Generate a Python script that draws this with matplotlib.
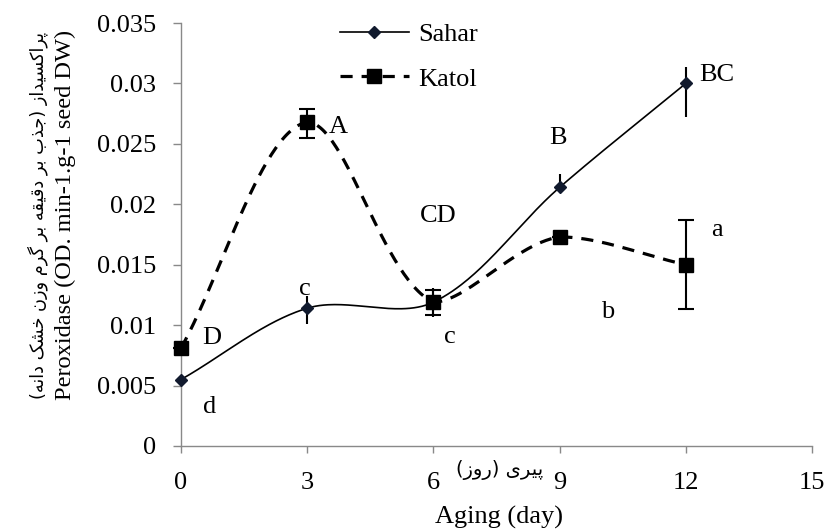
import numpy as np
import matplotlib
matplotlib.use("Agg")
import matplotlib.pyplot as plt

# ---- data ------------------------------------------------------------------
days = [0, 3, 6, 9, 12]
sahar = [0.0055, 0.0114, 0.0119, 0.0214, 0.0300]
sahar_err_lo = [0.0, 0.0013, 0.0012, 0.0, 0.0028]
sahar_err_hi = [0.0, 0.0010, 0.0012, 0.0011, 0.0014]
katol = [0.0081, 0.0268, 0.0119, 0.0173, 0.0150]
katol_err_lo = [0.0, 0.0013, 0.0011, 0.0, 0.0037]
katol_err_hi = [0.0, 0.0011, 0.0010, 0.0, 0.0037]
series_names = ["Sahar", "Katol"]

letters = ["D", "d", "c", "A", "CD", "c", "B", "b", "BC", "a"]
y_ticks = [0, 0.005, 0.01, 0.015, 0.02, 0.025, 0.03, 0.035]
x_ticks = [0, 3, 6, 9, 12, 15]

ylabel_en = "Peroxidase (OD. min-1.g-1 seed DW)"
ylabel_fa = "پراکسیداز (جذب بر دقیقه بر گرم وزن خشک دانه)"
xlabel_en = "Aging (day)"
xlabel_fa = "پیری (روز)"

# letter positions (x, y) in data units
letter_pos = [(0.74, 0.0089), (0.69, 0.0032), (2.95, 0.0130), (3.73, 0.0264),
              (6.11, 0.0190), (6.39, 0.0090), (8.96, 0.0255), (10.13, 0.0111),
              (12.74, 0.0307), (12.74, 0.0179)]


# ---- helpers -----------------------------------------------------------------
def excel_smooth(ax, x, y, n=60):
    """Bezier smoothing in screen space, arms weighted by chord length
    (close to Excel's 'smoothed line'); no overshoot past local extrema."""
    Q = ax.transData.transform(np.column_stack([x, y]).astype(float))
    m = len(Q)
    ext = [0 < k < m - 1 and (Q[k, 1] - Q[k - 1, 1]) * (Q[k + 1, 1] - Q[k, 1]) < 0
           for k in range(m)]
    P = np.vstack([Q[0], Q, Q[-1]])
    d = np.linalg.norm(np.diff(P, axis=0), axis=1)
    t = np.linspace(0, 1, n)[:, None]
    out = []
    for i in range(1, len(P) - 2):
        p0, p3 = P[i], P[i + 1]
        da, db, dc = d[i - 1], d[i], d[i + 1]
        w1 = db / (da + db) if da + db > 0 else 0.5
        w2 = db / (db + dc) if db + dc > 0 else 0.5
        p1 = p0 + (P[i + 1] - P[i - 1]) * w1 / 3.0
        p2 = p3 - (P[i + 2] - P[i]) * w2 / 3.0
        lo, hi = sorted([p0[1], p3[1]])
        if ext[i - 1]:
            p1[1] = np.clip(p1[1], lo, hi)
        if ext[i]:
            p2[1] = np.clip(p2[1], lo, hi)
        seg = ((1 - t) ** 3 * p0 + 3 * (1 - t) ** 2 * t * p1
               + 3 * (1 - t) * t ** 2 * p2 + t ** 3 * p3)
        out.append(seg if i == 1 else seg[1:])
    out = ax.transData.inverted().transform(np.vstack(out))
    return out[:, 0], out[:, 1]


# presentation forms: isolated, final, initial, medial
FORMS = {
    'ا': (0xFE8D, 0xFE8E, None, None), 'ب': (0xFE8F, 0xFE90, 0xFE91, 0xFE92),
    'پ': (0xFB56, 0xFB57, 0xFB58, 0xFB59), 'ج': (0xFE9D, 0xFE9E, 0xFE9F, 0xFEA0),
    'خ': (0xFEA5, 0xFEA6, 0xFEA7, 0xFEA8), 'د': (0xFEA9, 0xFEAA, None, None),
    'ذ': (0xFEAB, 0xFEAC, None, None), 'ر': (0xFEAD, 0xFEAE, None, None),
    'ز': (0xFEAF, 0xFEB0, None, None), 'س': (0xFEB1, 0xFEB2, 0xFEB3, 0xFEB4),
    'ش': (0xFEB5, 0xFEB6, 0xFEB7, 0xFEB8), 'ق': (0xFED5, 0xFED6, 0xFED7, 0xFED8),
    'ک': (0xFB8E, 0xFB8F, 0xFB90, 0xFB91), 'گ': (0xFB92, 0xFB93, 0xFB94, 0xFB95),
    'م': (0xFEE1, 0xFEE2, 0xFEE3, 0xFEE4), 'ن': (0xFEE5, 0xFEE6, 0xFEE7, 0xFEE8),
    'ه': (0xFEE9, 0xFEEA, 0xFEEB, 0xFEEC), 'و': (0xFEED, 0xFEEE, None, None),
    'ی': (0xFBFC, 0xFBFD, 0xFBFE, 0xFBFF),
}


def farsi(s):
    """Shape letters and put them in visual (left-to-right) order."""
    res = []
    for i, ch in enumerate(s):
        if ch not in FORMS:
            res.append(ch)
            continue
        prev = s[i - 1] if i > 0 else ''
        nxt = s[i + 1] if i + 1 < len(s) else ''
        jp = prev in FORMS and FORMS[prev][2] is not None
        jn = FORMS[ch][2] is not None and nxt in FORMS
        f = FORMS[ch]
        code = f[3] if (jp and jn) else f[1] if jp else f[2] if jn else f[0]
        res.append(chr(code))
    vis = ''.join(reversed(res))
    return vis.translate(str.maketrans('()', ')('))


# ---- plot --------------------------------------------------------------------
plt.rcParams['font.family'] = ['Liberation Serif', 'DejaVu Sans']
FS = 19
GRAY = '#898989'

fig = plt.figure(figsize=(8.28, 5.30), dpi=100)
ax = fig.add_axes([0.2186, 0.1585, 0.7621, 0.7981])
ax.set_xlim(0, 15)
ax.set_ylim(0, 0.035)

sx, sy = excel_smooth(ax, days, sahar)
kx, ky = excel_smooth(ax, days, katol)
ax.plot(sx, sy, color='black', lw=1.2, clip_on=False)
ax.plot(kx, ky, color='black', lw=2.3, dashes=(3.8, 2.8), clip_on=False)

ax.errorbar(days, sahar, yerr=[sahar_err_lo, sahar_err_hi], fmt='none',
            ecolor='black', elinewidth=1.5, capsize=0, clip_on=False)
ax.errorbar(days, katol, yerr=[katol_err_lo, katol_err_hi], fmt='none',
            ecolor='black', elinewidth=1.5, capsize=6, capthick=1.5,
            clip_on=False)
ax.plot(days, sahar, ls='none', marker='D', ms=6, color='#111a2e',
        clip_on=False, zorder=4)
ax.plot(days, katol, ls='none', marker='s', ms=10, color='black',
        clip_on=False, zorder=4)

# legend handles drawn like the Excel chart (line through marker)
h1, = ax.plot([], [], color='black', lw=1.2, marker='D', ms=6,
              mfc='#111a2e', mec='#111a2e')
h2, = ax.plot([], [], color='black', lw=2.3, dashes=(3.8, 2.8), marker='s',
              ms=10)
ax.legend([h1, h2], series_names, loc='upper left',
          bbox_to_anchor=(0.252, 1.0), frameon=False,
          prop={'family': 'Liberation Serif', 'size': FS},
          handlelength=2.6, handletextpad=0.35, labelspacing=0.78,
          borderpad=0, borderaxespad=0)

for txt, (lx, ly) in zip(letters, letter_pos):
    ax.text(lx, ly, txt, fontsize=FS, ha='center', va='center')

ax.set_xticks(x_ticks)
ax.set_yticks(y_ticks)
ax.set_yticklabels([f'{v:g}' for v in y_ticks])
ax.tick_params(axis='both', labelsize=FS, color=GRAY, direction='out')
ax.tick_params(axis='y', length=6, width=1, pad=12)
ax.tick_params(axis='x', length=5, width=1, pad=14)
for side in ('top', 'right'):
    ax.spines[side].set_visible(False)
for side in ('left', 'bottom'):
    ax.spines[side].set_color(GRAY)
    ax.spines[side].set_linewidth(1)

fig.text(0.0785, 0.594, ylabel_en, rotation=90, ha='center', va='center',
         fontsize=17.6)
fig.text(0.046, 0.594, farsi(ylabel_fa), rotation=90, ha='center',
         va='center', fontsize=12.8, family='DejaVu Sans')
fig.text(0.6027, 0.0245, xlabel_en, ha='center', va='center', fontsize=FS)
fig.text(0.603, 0.113, farsi(xlabel_fa), ha='center', va='center',
         fontsize=14, family='DejaVu Sans')

fig.savefig('out.png', dpi=100)
